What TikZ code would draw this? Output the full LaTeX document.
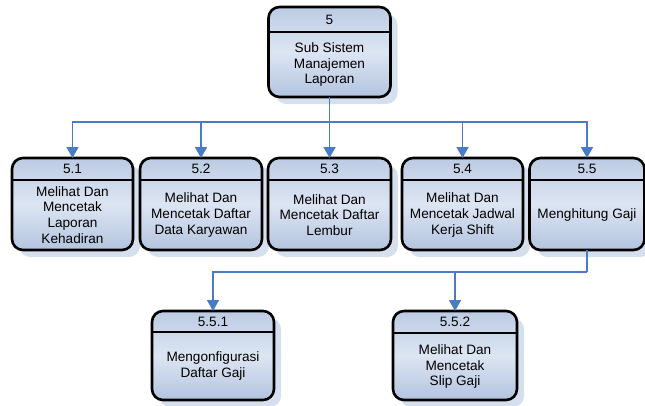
\documentclass[tikz,border=0pt]{standalone}
\usepackage{fontspec}
\setmainfont{Liberation Sans}
\usetikzlibrary{arrows.meta,shadows,calc}
\definecolor{connc}{HTML}{4A7CC6}
\definecolor{shad}{HTML}{D5DFEE}
\definecolor{ftop}{HTML}{BCCBE3}
\definecolor{fmid}{HTML}{DDE5F2}
\definecolor{fbot}{HTML}{B3C4DF}
\newcommand{\procbox}[9]{% name, cx, cy, w, h, header, number, text
  \node[proc, minimum width=#4pt, minimum height=#5pt] (#1) at (#2,#3) {};
  \draw[line width=2.6pt] ([yshift=-#6pt]#1.north west) -- ([yshift=-#6pt]#1.north east);
  \node[lbl] (#1n) at ($(#1.north)+(0,#6/2)$) {#7};
  \node[lbl] (#1t) at ($(#1.north)+(0,{(#5+#6)/2})$) {#8};
}
\begin{document}
\begin{tikzpicture}[x=1pt,y=-1pt,
  proc/.style={draw=black, line width=2.6pt, rounded corners=11pt, outer sep=0pt, inner sep=0pt,
    top color=ftop, bottom color=fbot, middle color=fmid,
    drop shadow={shadow xshift=7pt, shadow yshift=-7pt, fill=shad, opacity=1}},
  lbl/.style={font=\fontsize{13.6}{15.8}\selectfont, align=center, inner sep=0pt},
  link/.style={draw=connc, line width=1.8pt, -{Triangle[width=12pt,length=11pt]}},
  bus/.style={draw=connc, line width=1.8pt}]
\useasboundingbox (0,0) rectangle (645,405);
\procbox{p5}{329.5}{52}{122}{90}{25}{5}{Sub Sistem\\Manajemen\\Laporan}{}
\procbox{p51}{72.5}{204}{121}{92}{22}{5.1}{Melihat Dan\\Mencetak\\Laporan\\Kehadiran}{}
\procbox{p52}{201}{204}{122}{92}{22}{5.2}{Melihat Dan\\Mencetak Daftar\\Data Karyawan}{}
\procbox{p53}{329.5}{204}{123}{92}{22}{5.3}{Melihat Dan\\Mencetak Daftar\\Lembur}{}
\procbox{p54}{462.5}{204}{121}{92}{22}{5.4}{Melihat Dan\\Mencetak Jadwal\\Kerja Shift}{}
\procbox{p55}{587}{204}{115}{92}{22}{5.5}{Menghitung Gaji}{}
\procbox{p551}{213}{355.5}{122}{89}{21}{5.5.1}{Mengonfigurasi\\Daftar Gaji}{}
\procbox{p552}{455}{355.5}{124}{89}{22}{5.5.2}{Melihat Dan\\Mencetak\\Slip Gaji}{}
% connectors
\path (p5.south) ++(0,25) coordinate (b1);
\draw[link] (p5.south) -- (p53.north);
\draw[link] (b1) -| (p51.north);
\draw[link] (b1) -| (p52.north);
\draw[link] (b1) -| (p54.north);
\draw[link] (b1) -| (p55.north);
\path (p55.south) ++(0,22) coordinate (b2);
\draw[bus] (p55.south) -- (b2);
\draw[link] (b2) -| (p551.north);
\draw[link] (b2 -| p552.north) -- (p552.north);
\end{tikzpicture}
\end{document}
